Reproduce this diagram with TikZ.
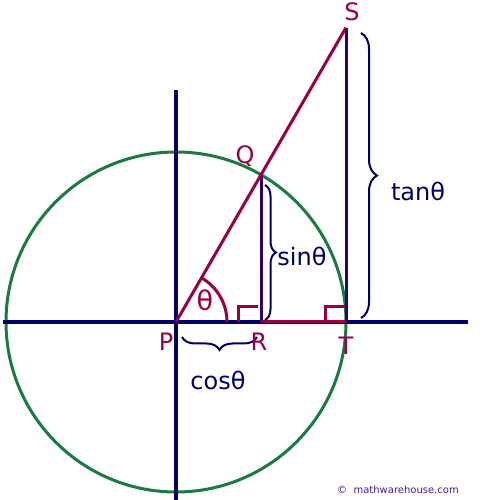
\documentclass[tikz,border=0pt]{standalone}
\usepackage{fontspec}
\setmainfont{DejaVu Sans}
\usetikzlibrary{decorations.pathreplacing}
\definecolor{navy}{HTML}{000066}
\definecolor{maroon}{HTML}{990044}
\definecolor{circgreen}{HTML}{1A7A40}
\definecolor{vpurple}{HTML}{330066}
\definecolor{copyc}{HTML}{4B1A8C}
\begin{document}
\begin{tikzpicture}[x=1pt,y=1pt,
  axis/.style={navy,line width=4pt},
  hyp/.style={maroon,line width=3pt},
  vline/.style={vpurple,line width=3pt},
  ptlabel/.style={maroon,font=\fontsize{24}{28}\selectfont,inner sep=0pt},
  fnlabel/.style={navy,font=\fontsize{24}{28}\selectfont,inner sep=0pt},
  bracestyle/.style={navy,line width=2pt,decorate,decoration={brace,amplitude=#1}},
  rmark/.style={maroon,line width=3pt}]
\useasboundingbox (0,0) rectangle (500,500);
\coordinate (P) at (176,178);
\coordinate (Q) at (261,325.2);
\coordinate (R) at (261,178);
\coordinate (S) at (346,472.4);
\coordinate (T) at (346,178);
\coordinate (AL) at (3,178);
\coordinate (AR) at (468,178);
\coordinate (AT) at (176,410);
\coordinate (AB) at (176,0);
% circle
\draw[circgreen,line width=3pt] (P) circle (170);
% axes
\draw[axis] (AL) -- (AR);
\draw[axis] (AT) -- (AB);
% triangle lines
\draw[vline] (Q) -- (R);
\draw[vline] (S) -- (T);
\draw[hyp] (R) -- (T);
\draw[hyp] (P) -- (S);
% angle arc
\draw[hyp] ([xshift=51pt]P) arc[start angle=0,end angle=60,radius=51];
% right angle marks
\draw[rmark] ([xshift=-23pt]R) -- ++(0,15) -- ++(20,0);
\draw[rmark] ([xshift=-21pt]T) -- ++(0,15) -- ++(20,0);
% braces
\coordinate (cb1) at (257,163);
\coordinate (cb2) at (182,163);
\draw[bracestyle=13pt] (cb1) -- (cb2);
\coordinate (sb1) at (265,315);
\coordinate (sb2) at (265,180);
\draw[bracestyle=11pt] (sb1) -- (sb2);
\coordinate (tb1) at (361,467);
\coordinate (tb2) at (361,182);
\draw[bracestyle=16pt] (tb1) -- (tb2);
% labels
\node[ptlabel] (lP) at (166,158) {P};
\node[ptlabel] (lR) at (259,158) {R};
\node[ptlabel] (lT) at (346,154) {T};
\node[ptlabel] (lQ) at (245,344) {Q};
\node[ptlabel] (lS) at (352,488) {S};
\node[ptlabel,font=\fontsize{27}{30}\selectfont] (lth) at (205,200) {θ};
\node[fnlabel] (lsin) at (302,244) {sinθ};
\node[fnlabel] (ltan) at (418,309) {tanθ};
\node[fnlabel] (lcos) at (218,120) {cosθ};
\node[copyc,font=\fontsize{10}{12}\selectfont,inner sep=0pt] (copy) at (398,10) {©\ \ mathwarehouse.com};
\end{tikzpicture}
\end{document}
